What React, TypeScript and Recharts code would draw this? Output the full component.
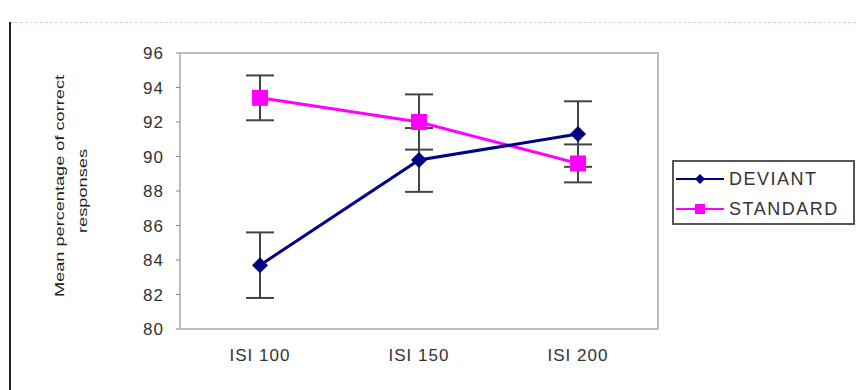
import React from 'react';
import { LineChart, Line, XAxis, YAxis, ErrorBar } from 'recharts';

const categories = ['ISI 100', 'ISI 150', 'ISI 200'];
const deviant = [83.7, 89.8, 91.3];
const deviantErr = [1.9, 1.85, 1.9];
const standard = [93.4, 92.0, 89.6];
const standardErr = [1.3, 1.6, 1.1];
const yTicks = [80, 82, 84, 86, 88, 90, 92, 94, 96];

const data = categories.map((name, i) => ({
  name,
  deviant: deviant[i],
  deviantErr: deviantErr[i],
  standard: standard[i],
  standardErr: standardErr[i],
}));

const NAVY = '#000080';
const MAGENTA = '#FF00FF';
const FONT = 'Arial, "Liberation Sans", sans-serif';
const FRAME = '#c0bcbc';

const Diamond = (props: any) => {
  const { cx, cy } = props;
  if (cx == null || cy == null) return null;
  const r = 8;
  return <path d={`M${cx},${cy - r}L${cx + r},${cy}L${cx},${cy + r}L${cx - r},${cy}Z`} fill={NAVY} />;
};

const Square = (props: any) => {
  const { cx, cy } = props;
  if (cx == null || cy == null) return null;
  const s = 8;
  return <rect x={cx - s} y={cy - s} width={s * 2} height={s * 2} fill={MAGENTA} />;
};

// two-line rotated axis title, stretched like the old spreadsheet font
const YTitle = () => (
  <g fontFamily={FONT} fontSize={12} fill="#222">
    <text
      x={60}
      y={186}
      transform="rotate(-90, 60, 186)"
      textAnchor="middle"
      dominantBaseline="central"
      textLength={222}
      lengthAdjust="spacingAndGlyphs"
    >
      Mean percentage of correct
    </text>
    <text
      x={83}
      y={191}
      transform="rotate(-90, 83, 191)"
      textAnchor="middle"
      dominantBaseline="central"
      textLength={84}
      lengthAdjust="spacingAndGlyphs"
    >
      responses
    </text>
  </g>
);

const legendItems = [
  { label: 'DEVIANT', color: NAVY, square: false },
  { label: 'STANDARD', color: MAGENTA, square: true },
];

const LegendBox = () => (
  <div
    style={{
      position: 'absolute',
      left: 672,
      top: 160,
      width: 183,
      height: 65,
      border: '2px solid #555',
      background: '#fff',
      fontFamily: FONT,
      fontSize: 18,
      letterSpacing: 1.5,
      color: '#333',
      boxSizing: 'border-box',
      padding: '2px 0 0 2px',
    }}
  >
    {legendItems.map((item) => (
      <div key={item.label} style={{ display: 'flex', alignItems: 'center', height: 30 }}>
        <svg width={48} height={14} style={{ marginRight: 5 }}>
          <line x1={0} y1={7} x2={48} y2={7} stroke={item.color} strokeWidth={2} />
          {item.square ? (
            <rect x={19} y={2} width={10} height={10} fill={item.color} />
          ) : (
            <path d="M24,2L29,7L24,12L19,7Z" fill={item.color} />
          )}
        </svg>
        <span>{item.label}</span>
      </div>
    ))}
  </div>
);

const tickStyle = { fontSize: 17, fill: '#333', fontFamily: FONT, letterSpacing: 1 };

export default function App() {
  return (
    <div style={{ position: 'fixed', left: 0, top: 0, width: 856, height: 390, background: '#fff', overflow: 'hidden' }}>
      <div style={{ position: 'absolute', left: 10, top: 22, width: 846, borderTop: '1px dashed #e6c8f0' }} />
      <div style={{ position: 'absolute', left: 9, top: 22, width: 2, height: 368, background: '#222' }} />
      <div
        style={{
          position: 'absolute',
          left: 180,
          top: 52,
          width: 479,
          height: 278,
          borderTop: `2px solid ${FRAME}`,
          borderRight: `2px solid ${FRAME}`,
          boxSizing: 'border-box',
        }}
      />
      <LineChart
        width={856}
        height={390}
        data={data}
        margin={{ top: 53, right: 198, bottom: 0, left: 0 }}
        style={{ position: 'absolute', left: 0, top: 0 }}
      >
        <XAxis
          dataKey="name"
          height={61}
          padding={{ left: 80, right: 80 }}
          axisLine={{ stroke: FRAME, strokeWidth: 2 }}
          tickLine={false}
          tick={tickStyle}
          dy={12}
        />
        <YAxis
          width={180}
          domain={[80, 96]}
          ticks={yTicks}
          interval={0}
          axisLine={{ stroke: FRAME, strokeWidth: 2 }}
          tickLine={{ stroke: '#888' }}
          tickSize={4}
          tickMargin={12}
          tick={tickStyle}
          label={{ content: YTitle }}
        />
        <Line
          dataKey="standard"
          name="STANDARD"
          stroke={MAGENTA}
          strokeWidth={3}
          dot={Square}
          activeDot={false}
          isAnimationActive={false}
        >
          <ErrorBar dataKey="standardErr" width={14} stroke="#444" strokeWidth={2} direction="y" />
        </Line>
        <Line
          dataKey="deviant"
          name="DEVIANT"
          stroke={NAVY}
          strokeWidth={3}
          dot={Diamond}
          activeDot={false}
          isAnimationActive={false}
        >
          <ErrorBar dataKey="deviantErr" width={14} stroke="#444" strokeWidth={2} direction="y" />
        </Line>
      </LineChart>
      <LegendBox />
    </div>
  );
}
